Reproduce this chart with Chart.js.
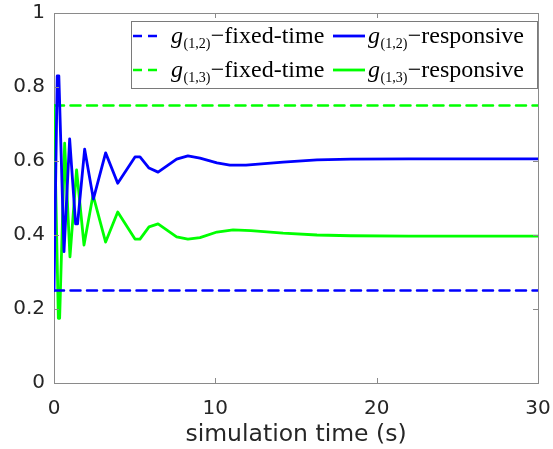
<!DOCTYPE html>
<html>
<head>
<meta charset="utf-8">
<script src="https://cdn.jsdelivr.net/npm/chart.js@4.4.1/dist/chart.umd.min.js"></script>
<style>
  html, body { margin: 0; padding: 0; background: #fff; }
  #wrap { width: 553px; height: 449px; }
</style>
</head>
<body>
<div id="wrap"><canvas id="myChart" width="553" height="449"></canvas></div>
<script>
// g(1,2) responsive: sample times (s) and values
var g12Time = [0, 0.2, 0.3, 0.62, 0.97, 1.34, 1.46, 1.9, 2.44, 3.2, 3.95, 5.02, 5.33, 5.89, 6.45,
               7.6, 8.3, 9.05, 10.1, 10.9, 11.9, 14.2, 16.3, 18.4, 22, 26, 30];
var g12Responsive = [0.25, 0.83, 0.83, 0.355, 0.66, 0.43, 0.43, 0.632, 0.497, 0.622, 0.54, 0.611, 0.611, 0.581, 0.570,
                     0.605, 0.614, 0.608, 0.595, 0.589, 0.589, 0.597, 0.603, 0.605, 0.606, 0.606, 0.606];
// g(1,3) responsive
var g13Time = [0, 0.27, 0.35, 0.66, 0.99, 1.4, 1.86, 2.42, 3.2, 3.95, 5.02, 5.33, 5.89, 6.45,
               7.6, 8.3, 9.05, 10.1, 11.1, 12.2, 14.2, 16.3, 18.4, 22, 26, 30];
var g13Responsive = [0.75, 0.175, 0.175, 0.648, 0.341, 0.576, 0.373, 0.508, 0.381, 0.462, 0.389, 0.389, 0.422, 0.43,
                     0.395, 0.389, 0.393, 0.408, 0.414, 0.412, 0.405, 0.400, 0.398, 0.397, 0.397, 0.397];
// fixed-time split
var fixedTime = [0, 30];
var g12Fixed = [0.25, 0.25];
var g13Fixed = [0.75, 0.75];

var xTicks = [0, 10, 20, 30];
var yTicks = [0, 0.2, 0.4, 0.6, 0.8, 1];

var legendRows = [
    { sub: '(1,2)', left: 'fixed-time', right: 'responsive' },
    { sub: '(1,3)', left: 'fixed-time', right: 'responsive' }
];

function pares(xs, ys) {
    return xs.map(function(x, i) { return { x: x, y: ys[i] }; });
}

var corAzul = '#0000ff';
var corVerde = '#00ff00';
var corEixo = '#8a8a8a';
var corTexto = '#262626';

// frame on top/right and inward tick marks like matlab
var moldura = {
    id: 'moldura',
    afterDraw: function(chart) {
        var ctx = chart.ctx;
        var a = chart.chartArea;
        var sx = chart.scales.x, sy = chart.scales.y;
        ctx.save();
        ctx.strokeStyle = corEixo;
        ctx.lineWidth = 1;
        ctx.beginPath();
        ctx.moveTo(a.left + 0.5, a.top + 0.5);
        ctx.lineTo(a.right + 0.5, a.top + 0.5);
        ctx.lineTo(a.right + 0.5, a.bottom + 0.5);
        xTicks.forEach(function(v) {
            var px = Math.round(sx.getPixelForValue(v)) + 0.5;
            ctx.moveTo(px, a.bottom); ctx.lineTo(px, a.bottom - 5);
            ctx.moveTo(px, a.top); ctx.lineTo(px, a.top + 5);
        });
        yTicks.forEach(function(v) {
            var py = Math.round(sy.getPixelForValue(v)) + 0.5;
            ctx.moveTo(a.left, py); ctx.lineTo(a.left + 5, py);
            ctx.moveTo(a.right, py); ctx.lineTo(a.right - 5, py);
        });
        ctx.stroke();
        ctx.restore();
    }
};

// legend with subscripts, 2x2 like the original
var legenda = {
    id: 'legenda',
    afterDraw: function(chart) {
        var ctx = chart.ctx;
        var ds = chart.data.datasets;
        ctx.save();
        ctx.fillStyle = '#fff';
        ctx.fillRect(131, 21.5, 406, 67);
        ctx.strokeStyle = '#7a7a7a';
        ctx.lineWidth = 1;
        ctx.strokeRect(131.5, 21.5, 406, 67);

        var linhas = [36, 70];
        legendRows.forEach(function(row, i) {
            var y = linhas[i];
            var dsFix = ds[i * 2], dsResp = ds[i * 2 + 1];
            // dashed sample
            ctx.strokeStyle = dsFix.borderColor;
            ctx.lineWidth = 2.5;
            ctx.setLineDash([9, 6]);
            ctx.beginPath(); ctx.moveTo(133, y); ctx.lineTo(163, y); ctx.stroke();
            // solid sample
            ctx.setLineDash([]);
            ctx.strokeStyle = dsResp.borderColor;
            ctx.lineWidth = 2.8;
            ctx.beginPath(); ctx.moveTo(333, y); ctx.lineTo(365, y); ctx.stroke();

            escreve(ctx, 171, y + 7, row.sub, row.left);
            escreve(ctx, 368, y + 7, row.sub, row.right);
        });
        ctx.restore();
    }
};

function escreve(ctx, x, base, sub, texto) {
    ctx.fillStyle = '#000';
    ctx.textBaseline = 'alphabetic';
    ctx.textAlign = 'left';
    ctx.font = 'italic 24px "Liberation Serif", "DejaVu Serif", serif';
    ctx.fillText('g', x, base);
    x += ctx.measureText('g').width + 0.5;
    ctx.font = '14px "Liberation Serif", "DejaVu Serif", serif';
    ctx.fillText(sub, x, base + 5);
    x += ctx.measureText(sub).width + 0.5;
    ctx.font = '24px "Liberation Serif", "DejaVu Serif", serif';
    ctx.fillText('\u2212' + texto, x, base);
}

var ctx = document.getElementById('myChart').getContext('2d');
var chart = new Chart(ctx, {
    type: 'line',
    data: {
        datasets: [
            { label: 'g(1,2)-fixed-time', data: pares(fixedTime, g12Fixed), borderColor: corAzul,
              borderWidth: 2.5, borderDash: [10, 6.5], pointRadius: 0, fill: false },
            { label: 'g(1,2)-responsive', data: pares(g12Time, g12Responsive), borderColor: corAzul,
              borderWidth: 2.8, pointRadius: 0, fill: false },
            { label: 'g(1,3)-fixed-time', data: pares(fixedTime, g13Fixed), borderColor: corVerde,
              borderWidth: 2.5, borderDash: [10, 6.5], pointRadius: 0, fill: false },
            { label: 'g(1,3)-responsive', data: pares(g13Time, g13Responsive), borderColor: corVerde,
              borderWidth: 2.8, pointRadius: 0, fill: false }
        ]
    },
    options: {
        responsive: false,
        animation: false,
        layout: { padding: { left: 0, top: 13, right: 15, bottom: 0 } },
        elements: { line: { tension: 0, borderJoinStyle: 'round', borderCapStyle: 'round' } },
        plugins: { legend: { display: false }, tooltip: { enabled: false } },
        scales: {
            x: {
                type: 'linear', min: 0, max: 30,
                grid: { display: false, drawTicks: false },
                border: { display: true, color: corEixo, width: 1 },
                afterBuildTicks: function(s) { s.ticks = xTicks.map(function(v) { return { value: v }; }); },
                ticks: { font: { family: 'DejaVu Sans', size: 20 }, color: corTexto, padding: 14, maxRotation: 0 },
                title: { display: true, text: 'simulation time (s)', color: corTexto,
                         font: { family: 'DejaVu Sans', size: 23.5 }, padding: { top: 0, bottom: 0 } },
                afterFit: function(s) { s.height = 66; s.paddingLeft = 0; s.paddingRight = 0; }
            },
            y: {
                min: 0, max: 1,
                grid: { display: false, drawTicks: false },
                border: { display: true, color: corEixo, width: 1 },
                afterBuildTicks: function(s) { s.ticks = yTicks.map(function(v) { return { value: v }; }); },
                ticks: { font: { family: 'DejaVu Sans', size: 20 }, color: corTexto, padding: 9,
                         callback: function(v) { return String(Math.round(v * 10) / 10); } },
                afterFit: function(s) { s.width = 54; s.paddingTop = 0; s.paddingBottom = 0; }
            }
        }
    },
    plugins: [moldura, legenda]
});
</script>
</body>
</html>
